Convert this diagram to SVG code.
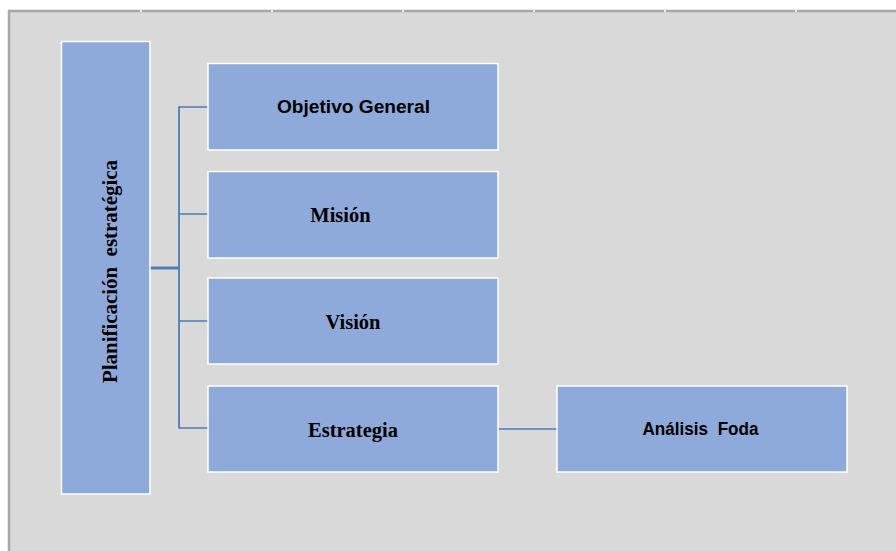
<svg xmlns="http://www.w3.org/2000/svg" width="896" height="551" viewBox="0 0 896 551">
<style>
.box{fill:#8eaadb;stroke:#ffffff;stroke-width:1.5}
.sans{font-family:"Liberation Sans",Arial,sans-serif;font-weight:bold;font-size:18px;fill:#000;text-anchor:middle;white-space:pre}
.serif{font-family:"Liberation Serif","Times New Roman",serif;font-weight:bold;font-size:20.5px;fill:#000;text-anchor:middle;white-space:pre}
.conn{stroke:#4a7db5;stroke-width:1.5;fill:none}
</style>
<rect x="0" y="0" width="896" height="551" fill="#ffffff"/>
<rect x="9" y="11" width="887" height="540" fill="#d9d9d9"/>
<line x1="8" y1="11" x2="896" y2="11" stroke="#a8a6a6" stroke-width="2.5"/>
<line x1="9" y1="10" x2="9" y2="551" stroke="#a8a6a6" stroke-width="2.5"/>
<g fill="#e8e8e8">
<rect x="140" y="10" width="2" height="2"/>
<rect x="271" y="10" width="2" height="2"/>
<rect x="402" y="10" width="2" height="2"/>
<rect x="533" y="10" width="2" height="2"/>
<rect x="664" y="10" width="2" height="2"/>
<rect x="795" y="10" width="2" height="2"/>
</g>
<g id="connectors">
<line class="conn" x1="150" y1="268" x2="179" y2="268" style="stroke-width:3"/>
<line class="conn" x1="179" y1="106.5" x2="179" y2="428.5" style="stroke-width:1.8"/>
<line class="conn" x1="179" y1="107" x2="208" y2="107"/>
<line class="conn" x1="179" y1="214" x2="208" y2="214"/>
<line class="conn" x1="179" y1="321" x2="208" y2="321"/>
<line class="conn" x1="179" y1="428" x2="208" y2="428"/>
<line class="conn" x1="498" y1="429" x2="557" y2="429"/>
</g>
<g id="planificacion">
<rect class="box" x="61.5" y="41.5" width="88.5" height="452.5"/>
<text class="serif" transform="translate(117,271.5) rotate(-90)" textLength="223" lengthAdjust="spacingAndGlyphs">Planificación  estratégica</text>
</g>
<g id="objetivo">
<rect class="box" x="208" y="63.5" width="290" height="86.5"/>
<text class="sans" x="353.5" y="112.5" textLength="153" lengthAdjust="spacingAndGlyphs">Objetivo General</text>
</g>
<g id="mision">
<rect class="box" x="208" y="171.5" width="290" height="86.5"/>
<text class="serif" x="340.5" y="221.5">Misión</text>
</g>
<g id="vision">
<rect class="box" x="208" y="278" width="290" height="86"/>
<text class="serif" x="353" y="328.5">Visión</text>
</g>
<g id="estrategia">
<rect class="box" x="208" y="386" width="290" height="86"/>
<text class="serif" x="353" y="436.5">Estrategia</text>
</g>
<g id="foda">
<rect class="box" x="557" y="386" width="290" height="86"/>
<text class="sans" x="700.5" y="435" style="font-size:17.5px" textLength="116" lengthAdjust="spacingAndGlyphs">Análisis  Foda</text>
</g>
</svg>
